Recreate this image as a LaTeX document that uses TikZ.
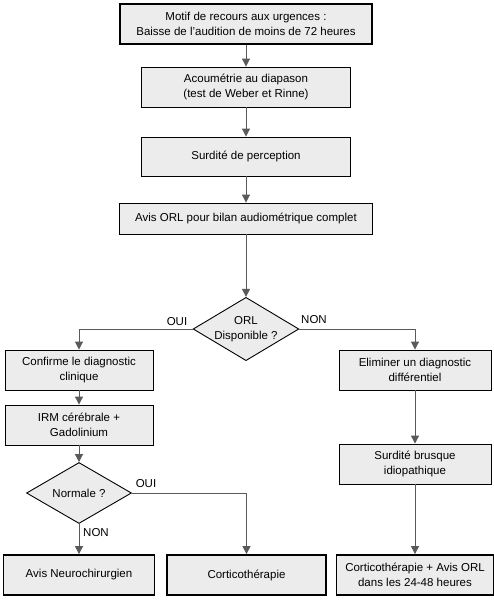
\documentclass[tikz,border=0pt]{standalone}
\usepackage{fontspec}
\setmainfont{Liberation Sans}
\usetikzlibrary{shapes.geometric,arrows.meta}
\definecolor{boxgray}{RGB}{236,236,236}
\definecolor{linegray}{RGB}{90,90,90}

\begin{document}
\begin{tikzpicture}[x=1pt,y=1pt]
            \tikzstyle{every node}+=[font=\fontsize{11.5}{15}\selectfont]
            \tikzstyle{box}=[draw=black, line width=0.9pt, fill=boxgray, align=center, inner sep=0pt, minimum height=40pt]
            \tikzstyle{boldbox}=[box, line width=1.8pt]
            \tikzstyle{choice}=[draw=black, line width=0.9pt, fill=boxgray, diamond, align=center, inner sep=0pt, aspect=1.67, minimum width=105pt, minimum height=62pt]
            \tikzstyle{link}=[draw=linegray, line width=1pt, -{Triangle[length=8pt,width=8pt]}]
            \useasboundingbox (0,0) rectangle (493,-600);
            \node [boldbox, minimum width=252pt] (motif) at (246,-24) {Motif de recours aux urgences :\\Baisse de l'audition de moins de 72 heures};
            \node [box, minimum width=209pt] (acoumetrie) at (246,-87) {Acoumétrie au diapason\\(test de Weber et Rinne)};
            \node [box, minimum width=209pt, minimum height=39pt] (perception) at (246,-156.5) {Surdité de perception};
            \node [box, minimum width=253pt, minimum height=31pt] (avisorl) at (246,-218.5) {Avis ORL pour bilan audiométrique complet};
            \node [choice] (orl) at (246,-329) {ORL\\Disponible ?};
            \node [box, minimum width=148pt] (confirme) at (79,-370) {Confirme le diagnostic\\clinique};
            \node [box, minimum width=148pt] (irm) at (79,-425) {IRM cérébrale +\\Gadolinium};
            \node [choice, minimum height=61pt] (normale) at (79,-493) {Normale ?};
            \node [boldbox, minimum width=151pt] (neuro) at (79,-575) {Avis Neurochirurgien};
            \node [boldbox, minimum width=159pt] (cortico) at (246.5,-575) {Corticothérapie};
            \node [box, minimum width=152pt] (eliminer) at (415,-370) {Eliminer un diagnostic\\différentiel};
            \node [box, minimum width=152pt] (brusque) at (415,-464) {Surdité brusque\\idiopathique};
            \node [boldbox, minimum width=157pt] (corticoorl) at (415,-575) {Corticothérapie + Avis ORL\\dans les 24-48 heures};
            \node (ouiorl) at (177,-322) {OUI};
            \node (nonorl) at (314,-320) {NON};
            \node (ouinormale) at (146,-484) {OUI};
            \node (nonnormale) at (96,-533) {NON};
            \draw [link] (motif) -- (acoumetrie);
            \draw [link] (acoumetrie) -- (perception);
            \draw [link] (perception) -- (avisorl);
            \draw [link] (avisorl) -- (orl);
            \draw [link] (orl.west) -| (confirme.north);
            \draw [link] (orl.east) -| (eliminer.north);
            \draw [link] (confirme) -- (irm);
            \draw [link] (irm) -- (normale);
            \draw [link] (normale) -- (neuro);
            \draw [link] (normale.east) -| (cortico.north);
            \draw [link] (eliminer) -- (brusque);
            \draw [link] (brusque) -- (corticoorl);
        \end{tikzpicture}
\end{document}
